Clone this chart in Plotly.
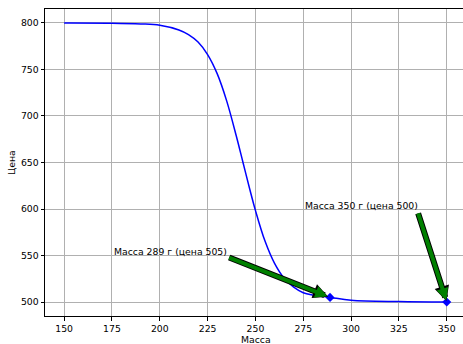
import plotly.graph_objects as go

# Price as a function of mass (sampled along the curve)
mass = [150, 175, 190, 200, 210, 215, 220, 225, 230, 235, 240, 243.5, 247, 250,
        255, 260, 265, 270, 275, 280, 289, 300, 325, 350]
price = [800, 799.8, 799, 797.6, 792.5, 787.5, 779.5, 766, 745.5, 716, 678.5,
         650, 621.5, 598.5, 565.5, 541.5, 525.5, 516, 510, 507.5, 505, 502,
         500.5, 500]

# Highlighted points
pt_mass = [289, 350]
pt_price = [505, 500]

# Label anchors (left / baseline) and arrow tails, in data units
label_pos = [(175, 550), (275, 600)]
arrow_tail = [(235.5, 548.5), (334.8, 597)]
arrow_standoff = [3, 2]

x_ticks = [150, 175, 200, 225, 250, 275, 300, 325, 350]
y_ticks = [500, 550, 600, 650, 700, 750, 800]

FONT = "DejaVu Sans"
FS = 9.3

fig = go.Figure()
fig.add_trace(go.Scatter(
    x=mass, y=price, mode="lines",
    line=dict(color="#0000ff", width=1.5, shape="spline", smoothing=1.0),
    hoverinfo="skip", showlegend=False,
))
fig.add_trace(go.Scatter(
    x=pt_mass, y=pt_price, mode="markers",
    marker=dict(symbol="diamond", size=7, color="#0000ff"),
    showlegend=False,
))

annotations = []
for (m, p), (lx, ly), (tx, ty), so in zip(zip(pt_mass, pt_price), label_pos,
                                           arrow_tail, arrow_standoff):
    annotations.append(dict(
        x=lx, y=ly, xref="x", yref="y", text=f"Масса {m} г (цена {p})",
        showarrow=False, xanchor="left", yanchor="middle", yshift=4,
        font=dict(family=FONT, size=FS, color="#000"),
    ))
    # black outline below, green arrow on top
    annotations.append(dict(
        x=m, y=p, xref="x", yref="y", ax=tx, ay=ty, axref="x", ayref="y",
        text="", showarrow=True, arrowhead=2, arrowsize=0.5, arrowwidth=6,
        arrowcolor="#000000", standoff=max(so - 1, 0),
    ))
    annotations.append(dict(
        x=m, y=p, xref="x", yref="y", ax=tx, ay=ty, axref="x", ayref="y",
        text="", showarrow=True, arrowhead=2, arrowsize=0.6, arrowwidth=4,
        arrowcolor="#008000", standoff=so,
    ))

# Axis titles
annotations.append(dict(
    x=0.5048, y=-0.075, xref="paper", yref="paper", text="Масса",
    showarrow=False, xanchor="center", yanchor="middle",
    font=dict(family=FONT, size=FS, color="#000"),
))
annotations.append(dict(
    x=-0.08, y=0.5, xref="paper", yref="paper", text="Цена", textangle=-90,
    showarrow=False, xanchor="center", yanchor="middle",
    font=dict(family=FONT, size=FS, color="#000"),
))

axis_common = dict(
    showgrid=True, gridcolor="#b0b0b0", gridwidth=0.8,
    zeroline=False, showline=True, linecolor="#000", linewidth=1,
    ticks="outside", ticklen=3.5, tickwidth=0.8, tickcolor="#000",
    tickfont=dict(family=FONT, size=FS, color="#000"),
    automargin=False,
)

fig.update_layout(
    width=463, height=344,
    margin=dict(l=45, r=0, t=9, b=28, autoexpand=False),
    paper_bgcolor="white", plot_bgcolor="white",
    font=dict(family=FONT, size=FS, color="#000"),
    annotations=annotations,
    xaxis=dict(range=[140, 358.5], tickvals=x_ticks, mirror=True, **axis_common),
    yaxis=dict(range=[485, 815], tickvals=y_ticks, mirror=False, **axis_common),
)

fig.write_html("out.html")
